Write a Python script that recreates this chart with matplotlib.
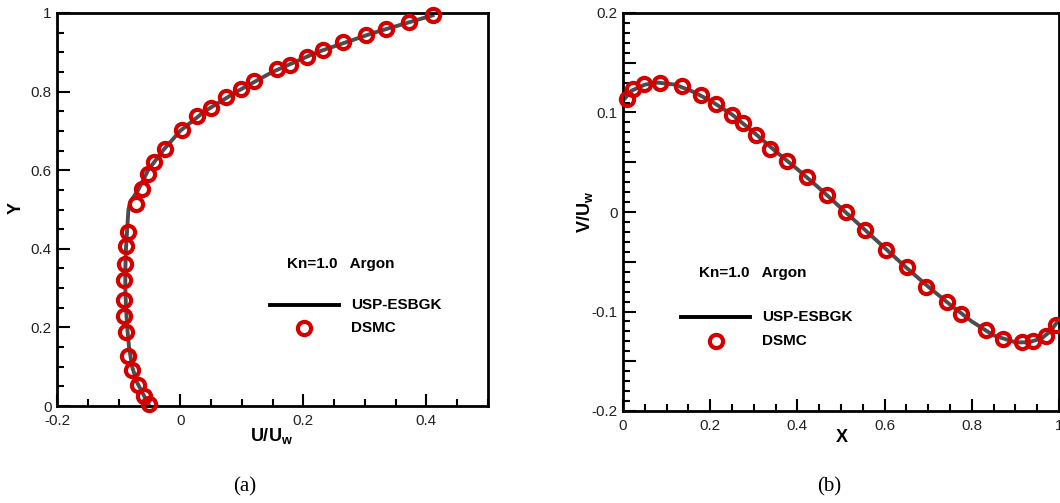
import matplotlib
matplotlib.use("Agg")
import matplotlib.pyplot as plt
from matplotlib.ticker import MultipleLocator, FuncFormatter
from matplotlib.lines import Line2D

# ---- data ----
# (a) U/Uw along vertical centreline
dsmc_u = [0.410, 0.371, 0.334, 0.302, 0.265, 0.232, 0.206, 0.179, 0.157, 0.120,
          0.099, 0.075, 0.050, 0.027, 0.003, -0.024, -0.043, -0.053, -0.062, -0.071,
          -0.084, -0.088, -0.089, -0.091, -0.091, -0.091, -0.088, -0.084, -0.078, -0.069,
          -0.059, -0.051]
dsmc_y = [0.994, 0.977, 0.960, 0.943, 0.926, 0.906, 0.887, 0.868, 0.857, 0.828,
          0.806, 0.785, 0.759, 0.737, 0.703, 0.654, 0.620, 0.590, 0.553, 0.514,
          0.444, 0.407, 0.362, 0.321, 0.270, 0.230, 0.188, 0.127, 0.091, 0.053,
          0.025, 0.005]
usp_u = [-0.050, -0.060, -0.070, -0.078, -0.083, -0.086, -0.088, -0.089, -0.089, -0.088,
         -0.086, -0.084, -0.081, -0.068, -0.052, -0.028, 0.000, 0.040, 0.092, 0.150,
         0.222, 0.315, 0.410]
usp_y = [0.000, 0.030, 0.060, 0.100, 0.150, 0.200, 0.250, 0.300, 0.350, 0.400,
         0.450, 0.500, 0.520, 0.550, 0.600, 0.650, 0.700, 0.750, 0.800, 0.850,
         0.900, 0.950, 0.994]

# (b) V/Uw along horizontal centreline
dsmc_x = [0.009, 0.023, 0.048, 0.084, 0.136, 0.178, 0.214, 0.250, 0.275, 0.304,
          0.338, 0.375, 0.421, 0.467, 0.511, 0.555, 0.604, 0.652, 0.696, 0.742,
          0.775, 0.832, 0.871, 0.916, 0.941, 0.970, 0.992]
dsmc_v = [0.114, 0.124, 0.129, 0.130, 0.127, 0.118, 0.109, 0.097, 0.089, 0.077,
          0.063, 0.051, 0.035, 0.017, 0.000, -0.018, -0.038, -0.055, -0.075, -0.090,
          -0.103, -0.119, -0.128, -0.131, -0.130, -0.125, -0.114]
usp_x = [0.0, 0.02, 0.05, 0.08, 0.12, 0.16, 0.2, 0.25, 0.3, 0.35, 0.4, 0.45, 0.5,
         0.55, 0.6, 0.65, 0.7, 0.75, 0.8, 0.85, 0.9, 0.93, 0.96, 0.98, 1.0]
usp_v = [0.112, 0.122, 0.128, 0.130, 0.128, 0.121, 0.112, 0.098, 0.080, 0.061, 0.043,
         0.024, 0.004, -0.016, -0.036, -0.056, -0.075, -0.093, -0.110, -0.124, -0.131,
         -0.131, -0.127, -0.120, -0.108]

case_text = "Kn=1.0   Argon"
line_label = "USP-ESBGK"
point_label = "DSMC"

# ---- style ----
W, H = 1060, 503
plt.rcParams["font.family"] = ["Liberation Sans", "DejaVu Sans"]
plt.rcParams["mathtext.fontset"] = "custom"
plt.rcParams["mathtext.bf"] = "Liberation Sans:bold"
plt.rcParams["mathtext.rm"] = "Liberation Sans"
lineColor = "#4d4d4d"
ptColor = "#d40000"
ms = 9.5
mew = 3.0

def px(x, y):
    return x / W, 1 - y / H

fig = plt.figure(figsize=(W / 100, H / 100), dpi=100)
axA = fig.add_axes([57 / W, 1 - 406 / H, (488 - 57) / W, (406 - 13) / H])
axB = fig.add_axes([623 / W, 1 - 411 / H, (1059 - 623) / W, (411 - 13) / H])

fmt = FuncFormatter(lambda v, p: "%g" % round(v, 6))

def style_axis(ax):
    for s in ax.spines.values():
        s.set_linewidth(2.0)
    ax.tick_params(which="both", direction="in", top=False, right=False, width=1.5,
                   labelsize=11, colors="black", labelcolor="#222222")
    ax.tick_params(which="major", length=9, pad=6)
    ax.tick_params(which="minor", length=5)

# (a)
axA.plot(usp_u, usp_y, color=lineColor, lw=2.8, zorder=2)
axA.plot(dsmc_u, dsmc_y, ls="none", marker="o", ms=ms, mfc="none", mec=ptColor,
         mew=mew, zorder=3, clip_on=False)
axA.set_xlim(-0.2, 0.5)
axA.set_ylim(0, 1)
axA.xaxis.set_major_locator(MultipleLocator(0.2))
axA.xaxis.set_minor_locator(MultipleLocator(0.05))
axA.yaxis.set_major_locator(MultipleLocator(0.2))
axA.yaxis.set_minor_locator(MultipleLocator(0.05))
axA.xaxis.set_major_formatter(fmt)
axA.yaxis.set_major_formatter(fmt)
style_axis(axA)
axA.tick_params(axis="y", pad=4)

# (b)
axB.plot(usp_x, usp_v, color=lineColor, lw=2.8, zorder=2)
axB.plot(dsmc_x, dsmc_v, ls="none", marker="o", ms=ms, mfc="none", mec=ptColor,
         mew=mew, zorder=3, clip_on=False)
axB.set_xlim(0, 1)
axB.set_ylim(-0.2, 0.2)
axB.xaxis.set_major_locator(MultipleLocator(0.2))
axB.xaxis.set_minor_locator(MultipleLocator(0.05))
axB.yaxis.set_major_locator(MultipleLocator(0.05))
axB.yaxis.set_minor_locator(MultipleLocator(0.01))
axB.xaxis.set_major_formatter(fmt)
axB.yaxis.set_major_formatter(FuncFormatter(
    lambda v, p: ("%g" % round(v, 6)) if abs(round(v / 0.1) - v / 0.1) < 1e-6 else ""))
style_axis(axB)
axB.tick_params(axis="y", pad=4)

# axis labels
fig.text(*px(272, 436), r"$\mathbf{U/U_w}$", fontsize=13, ha="center", va="center")
fig.text(*px(16, 208), "Y", fontsize=13, fontweight="bold", rotation=90,
         ha="center", va="center")
fig.text(*px(842, 438), "X", fontsize=13, fontweight="bold", ha="center", va="center")
fig.text(*px(585, 212), r"$\mathbf{V/U_w}$", fontsize=13, rotation=90,
         ha="center", va="center")

# legends
def legend_block(tx, ty, lx0, lx1, ly, cx, cy, labx):
    fig.text(*px(tx, ty), case_text, fontsize=11, fontweight="bold", ha="left", va="center")
    fig.add_artist(Line2D([lx0 / W, lx1 / W], [1 - ly / H, 1 - ly / H], color="black",
                          lw=2.8, transform=fig.transFigure))
    fig.text(*px(labx, ly), line_label, fontsize=11, fontweight="bold", ha="left", va="center")
    fig.add_artist(Line2D([cx / W], [1 - cy / H], ls="none", marker="o", ms=ms, mfc="none",
                          mec=ptColor, mew=mew, transform=fig.transFigure))
    fig.text(*px(labx, cy), point_label, fontsize=11, fontweight="bold", ha="left", va="center")

legend_block(287, 264, 270, 339, 305, 304, 328, 351)
legend_block(699, 273, 681, 750, 317, 716, 341, 762)

# sub captions
fig.text(*px(245, 487), "(a)", fontsize=15, family=["Liberation Serif", "DejaVu Serif"],
         ha="center", va="center")
fig.text(*px(829, 487), "(b)", fontsize=15, family=["Liberation Serif", "DejaVu Serif"],
         ha="center", va="center")

fig.savefig("out.png", dpi=100)
